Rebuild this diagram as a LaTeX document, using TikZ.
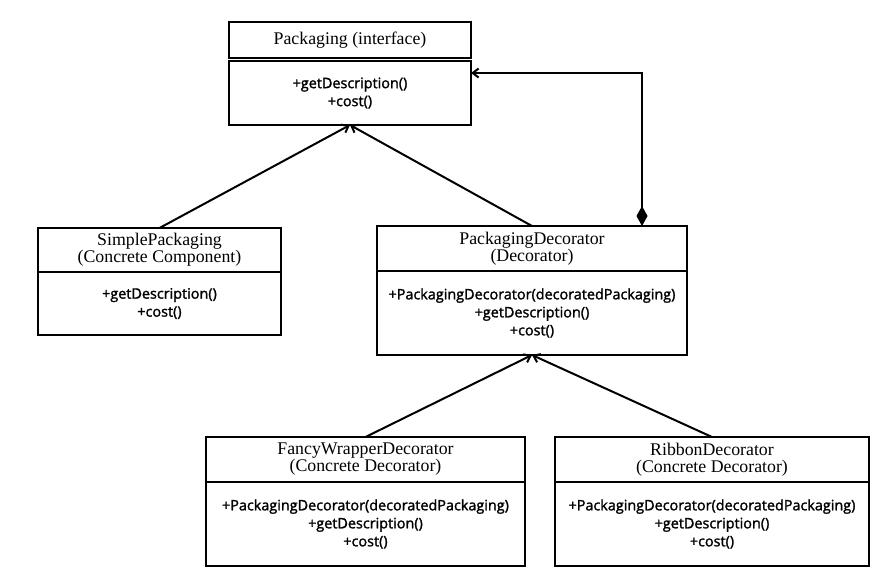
\documentclass[tikz,border=0pt]{standalone}
\usepackage{fontspec}
\setmainfont{Liberation Serif}
\newfontfamily\opsans[UprightFeatures={FakeBold=1.6}]{Open Sans}
\usetikzlibrary{arrows.meta, positioning}
\tikzset{
x=1pt, y=-1pt, node distance=0pt,
classhead/.style={draw, line width=2pt, outer sep=0pt, inner sep=0pt, align=center,
  font=\fontsize{17.8}{17}\selectfont},
classbody/.style={draw, line width=2pt, outer sep=0pt, inner sep=0pt, align=center,
  font=\opsans\fontsize{14.4}{18}\selectfont},
inherit/.style={line width=2pt, -{Straight Barb[length=6pt,width=9pt]}},
aggreg/.style={line width=2pt, {Diamond[length=20pt,width=11pt]}-{Straight Barb[length=6pt,width=9pt]}},
}

\begin{document}
\begin{tikzpicture}
\useasboundingbox (0,0) rectangle (891,582);

% Component
\node[classhead, minimum width=242, minimum height=36] (pkgH) at (350,40) {Packaging (interface)};
\node[classbody, minimum width=242, minimum height=64, below=3pt of pkgH] (pkgB) {+getDescription()\\+cost()};

% Concrete component
\node[classhead, minimum width=243, minimum height=44] (simpleH) at (159.5,250) {SimplePackaging\\(Concrete Component)};
\node[classbody, minimum width=243, minimum height=63, below=of simpleH] (simpleB) {+getDescription()\\+cost()};

% Decorator
\node[classhead, minimum width=310, minimum height=45] (decH) at (532,248.5) {PackagingDecorator\\(Decorator)};
\node[classbody, minimum width=310, minimum height=84, below=of decH] (decB) {+PackagingDecorator(decoratedPackaging)\\+getDescription()\\+cost()};

% Concrete decorators
\node[classhead, minimum width=319, minimum height=45] (fancyH) at (365.5,459.5) {FancyWrapperDecorator\\(Concrete Decorator)};
\node[classbody, minimum width=319, minimum height=84, below=of fancyH] (fancyB) {+PackagingDecorator(decoratedPackaging)\\+getDescription()\\+cost()};

\node[classhead, minimum width=314, minimum height=45] (ribbonH) at (712,459.5) {RibbonDecorator\\(Concrete Decorator)};
\node[classbody, minimum width=314, minimum height=84, below=of ribbonH] (ribbonB) {+PackagingDecorator(decoratedPackaging)\\+getDescription()\\+cost()};

% Relations
\draw[inherit] (simpleH.north) -- (pkgB.south);
\draw[inherit] (decH.north) -- (pkgB.south);
\draw[inherit] (fancyH.north) -- (decB.south);
\draw[inherit] (ribbonH.north) -- (decB.south);

\coordinate (bend) at (642,73);
\draw[aggreg] (bend |- decH.north) -- (bend) -- (bend -| pkgB.east);
\end{tikzpicture}
\end{document}
